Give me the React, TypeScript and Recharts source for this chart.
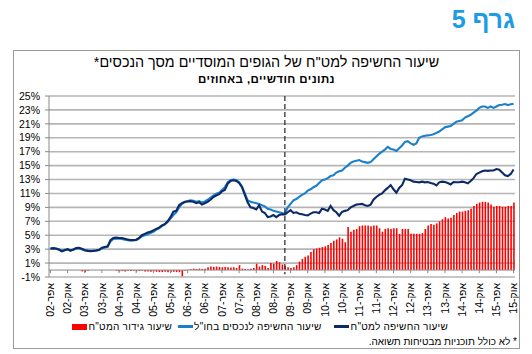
import React from 'react';
import { ComposedChart, Bar, Line, XAxis, YAxis, CartesianGrid, ReferenceLine } from 'recharts';

// Monthly categories: Apr 2002 .. Oct 2015
const MONTH_NAMES = ['ינו', 'פבר', 'מרץ', 'אפר', 'מאי', 'יונ', 'יול', 'אוג', 'ספט', 'אוק', 'נוב', 'דצמ'];
const FIRST_YEAR = 2002;
const FIRST_MONTH = 3; // April
const N_MONTHS = 163;
const categories: string[] = Array.from({ length: N_MONTHS }, (_, i) => {
  const k = FIRST_MONTH + i;
  const yy = (FIRST_YEAR + Math.floor(k / 12)) % 100;
  return `${MONTH_NAMES[k % 12]}-${String(yy).padStart(2, '0')}`;
});

// שיעור החשיפה למט"ח (navy)
const fxExposure = [
  3.1, 3.15, 3.1, 2.95, 2.7, 2.85, 3.0, 2.8, 2.95, 3.15, 3.2, 3.05,
  2.85, 2.75, 2.72, 2.75, 2.8, 2.9, 3.2, 3.3, 3.4, 4.3, 4.6, 4.65,
  4.6, 4.6, 4.5, 4.4, 4.3, 4.3, 4.35, 4.6, 5.0, 5.2, 5.4, 5.5,
  5.7, 5.9, 6.1, 6.4, 6.6, 7.0, 7.6, 8.4, 8.5, 9.3, 9.6, 9.8,
  9.85, 9.9, 9.8, 9.6, 9.75, 9.4, 9.6, 9.8, 10.1, 10.5, 10.7, 10.9,
  11.3, 11.5, 12.4, 12.8, 12.9, 12.8, 12.5, 11.9, 10.8, 9.7, 9.0, 8.9,
  8.7, 9.3, 8.4, 8.2, 7.6, 7.7, 7.9, 7.6, 7.9, 8.0, 8.0, 8.3,
  8.6, 8.2, 8.3, 8.1, 8.0, 7.9, 7.85, 8.1, 8.3, 8.3, 8.2, 8.8,
  8.7, 8.5, 9.2, 8.6, 8.3, 7.8, 8.35, 8.5, 8.6, 9.0, 9.2, 9.4,
  9.45, 9.5, 9.3, 9.2, 9.4, 10.1, 10.5, 10.8, 11.0, 11.45, 11.8, 12.2,
  11.6, 11.1, 11.8, 12.2, 13.1, 13.0, 12.9, 12.7, 12.65, 12.6, 12.7, 12.6,
  12.65, 12.5, 12.4, 12.15, 12.6, 12.7, 12.65, 12.5, 12.3, 12.65, 12.6, 12.6,
  12.7, 12.6, 12.45, 12.8, 13.2, 13.8, 14.0, 14.2, 14.3, 14.25, 14.3, 14.3,
  14.5, 14.4, 14.0, 13.6, 13.5, 13.8, 14.45,
];

// שיעור החשיפה לנכסים בחו"ל (blue)
const foreignAssets = [
  3.05, 3.1, 3.05, 2.9, 2.75, 2.9, 2.95, 2.8, 2.9, 3.1, 3.1, 3.0,
  2.85, 2.8, 2.75, 2.75, 2.8, 2.85, 3.1, 3.25, 3.35, 4.1, 4.45, 4.5,
  4.5, 4.45, 4.35, 4.3, 4.25, 4.3, 4.3, 4.5, 4.85, 5.0, 5.15, 5.3,
  5.5, 5.8, 6.0, 6.3, 6.55, 6.9, 7.4, 7.9, 8.3, 9.0, 9.5, 9.75,
  9.9, 10.0, 9.95, 9.8, 9.9, 9.7, 9.85, 10.1, 10.4, 10.7, 10.95, 11.1,
  11.5, 11.9, 12.6, 12.9, 13.0, 12.95, 12.6, 12.0, 11.0, 10.0, 9.8, 9.7,
  9.6, 9.5, 9.3, 9.15, 8.8, 8.7, 8.5, 8.4, 8.3, 8.2, 8.1, 9.0,
  9.5, 10.0, 10.2, 10.5, 10.8, 11.0, 11.4, 11.6, 11.9, 12.1, 12.5, 12.9,
  13.0, 13.2, 13.5, 13.6, 14.0, 14.2, 14.3, 14.7, 15.0, 15.4, 15.6, 15.7,
  15.8, 15.6, 15.5, 15.4, 15.5, 15.9, 16.3, 16.7, 17.0, 17.3, 17.7, 17.4,
  17.3, 17.1, 17.5, 17.9, 18.4, 18.5, 18.2, 18.0, 18.2, 19.0, 19.2, 19.3,
  19.35, 19.4, 19.5, 19.7, 19.9, 20.2, 20.5, 20.6, 20.7, 21.0, 21.3, 21.4,
  21.5, 21.9, 22.1, 22.3, 22.6, 22.9, 23.3, 23.5, 23.5, 23.3, 23.5, 23.3,
  23.5, 23.7, 23.75, 23.85, 23.7, 23.8, 23.9,
];

// שיעור גידור המט"ח (red bars)
const hedging = [
  0, 0, 0, 0, 0, 0, 0, 0, 0, 0, 0, -0.2,
  -0.3, -0.1, 0, 0, 0, 0, 0, 0, 0, 0, 0, -0.1,
  -0.2, -0.15, -0.2, -0.1, -0.15, -0.1, -0.2, -0.15, -0.1, -0.2, -0.2, -0.25,
  -0.2, -0.25, -0.3, -0.3, -0.25, -0.3, -0.3, -0.25, -0.3, -0.3, -0.9, -0.1,
  0.05, 0.1, 0.2, 0.15, 0.2, 0.15, 0.2, 0.4, 0.5, 0.45, 0.5, 0.45,
  0.4, 0.45, 0.4, 0.35, 0.4, 0.3, 0.7, 0.2, 0.15, 0.1, 0.2, 0.3,
  0.9, 0.5, 0.7, 0.6, 0.3, 1.0, 0.9, 1.3, 1.1, 0.8, 0.6, 0.4,
  0.3, 0.4, 0.7, 1.2, 1.6, 1.9, 2.1, 2.6, 3.0, 3.1, 3.2, 3.3,
  3.4, 3.6, 3.9, 4.2, 4.4, 4.7, 4.5, 4.0, 6.2, 5.5, 5.8, 5.9,
  6.3, 6.4, 6.4, 6.4, 6.3, 6.4, 6.4, 6.0, 5.5, 5.9, 6.0, 5.9,
  6.0, 6.0, 5.2, 5.9, 5.9, 5.9, 5.2, 5.2, 5.2, 5.2, 5.3, 5.9,
  6.4, 6.6, 6.5, 6.7, 7.0, 7.3, 7.6, 7.4, 7.5, 7.9, 8.2, 8.4,
  8.4, 8.5, 8.6, 8.8, 9.2, 9.5, 9.7, 9.8, 9.8, 9.7, 9.4, 9.1,
  9.2, 9.2, 9.1, 9.1, 9.2, 9.2, 9.7,
];

const yTicks = [-1, 1, 3, 5, 7, 9, 11, 13, 15, 17, 19, 21, 23, 25];
const markerMonth = 'פבר-09';
const tickCats = categories.filter((_, i) => i % 6 === 0);

const data = categories.map((m, i) => ({
  m,
  fx: fxExposure[i],
  abroad: foreignAssets[i],
  hedge: hedging[i],
}));

const NAVY = '#0d2a66';
const BLUE = '#1a80cc';
const RED = '#ff0000';
const FONT = '"Liberation Sans", Arial, "DejaVu Sans", sans-serif';

const XTick = (props: any) => {
  const { x, y, payload } = props;
  return (
    <g transform={`translate(${x},${y}) rotate(-90)`}>
      <text x={0} y={0} dy="0.35em" textAnchor="end" fontSize={10.5} fill="#000" fontFamily={FONT}>
        {'\u202B' + payload.value + '\u202C'}
      </text>
    </g>
  );
};

export default function App() {
  return (
    <div style={{ position: 'absolute', left: 0, top: 0, width: 532, height: 354, fontFamily: FONT, background: '#fff' }}>
      <div style={{ position: 'absolute', right: 17, top: 5, fontSize: 25, fontWeight: 'bold', color: '#1c9be6' }} dir="rtl">
        גרף 5
      </div>
      <div style={{ position: 'absolute', left: 13, top: 50, width: 507, height: 299, border: '1.5px solid #9a9a9a', boxSizing: 'border-box' }} />
      <div dir="rtl" style={{ position: 'absolute', left: 13, width: 507, top: 54, textAlign: 'center', fontSize: 14.3, color: '#000' }}>
        שיעור החשיפה למט''ח של הגופים המוסדיים מסך הנכסים*
      </div>
      <div dir="rtl" style={{ position: 'absolute', left: 13, width: 507, top: 73, textAlign: 'center', fontSize: 11.5, fontWeight: 'bold', letterSpacing: 0.4, color: '#000' }}>
        נתונים חודשיים, באחוזים
      </div>
      <div style={{ position: 'absolute', left: 0, top: 0 }}>
        <ComposedChart width={532} height={354} data={data} margin={{ top: 96, right: 17, bottom: 32, left: 10 }} barCategoryGap={0}>
          <CartesianGrid vertical={false} stroke="#b5b5b5" strokeWidth={1.6} />
          <XAxis
            dataKey="m"
            interval={5}
            tick={<XTick />}
            tickLine={false}
            axisLine={false}
            tickSize={0}
            tickMargin={6}
            height={45}
          />
          <YAxis
            domain={[-1, 25]}
            ticks={yTicks}
            tickFormatter={(v: number) => `${v}%`}
            axisLine={{ stroke: '#888' }}
            tickLine={{ stroke: '#888' }}
            tickSize={4}
            tickMargin={5}
            width={39}
            tick={{ fontSize: 10.5, fill: '#000', fontFamily: FONT }}
            interval={0}
          />
          <ReferenceLine y={0} stroke="#888" strokeWidth={1} />
          {tickCats.map((c) => (
            <ReferenceLine key={c} segment={[{ x: c, y: 0 }, { x: c, y: -0.45 }]} stroke="#888" strokeWidth={1} />
          ))}
          <Bar dataKey="hedge" fill={RED} barSize={1.6} isAnimationActive={false} />
          <Line type="linear" dataKey="abroad" stroke={BLUE} strokeWidth={2.1} dot={false} isAnimationActive={false} />
          <Line type="linear" dataKey="fx" stroke={NAVY} strokeWidth={2.1} dot={false} isAnimationActive={false} />
          <ReferenceLine
            segment={[{ x: markerMonth, y: 25 }, { x: markerMonth, y: -0.6 }]}
            stroke="#333"
            strokeWidth={1.3}
            strokeDasharray="5 3"
          />
        </ComposedChart>
      </div>
      <div dir="rtl" style={{ position: 'absolute', right: 84, top: 321, display: 'flex', alignItems: 'center', fontSize: 10, letterSpacing: 0.25, color: '#000', whiteSpace: 'nowrap' }}>
        <span>שיעור החשיפה למט"ח</span>
        <span style={{ display: 'inline-block', width: 15, height: 2.5, background: NAVY, margin: '0 2px 0 12px' }} />
        <span>שיעור החשיפה לנכסים בחו"ל</span>
        <span style={{ display: 'inline-block', width: 15, height: 2.5, background: BLUE, margin: '0 1px 0 6px' }} />
        <span>שיעור גידור המט"ח</span>
        <span style={{ display: 'inline-block', width: 15, height: 6, background: RED, margin: '0 1px 0 0' }} />
      </div>
      <div dir="rtl" style={{ position: 'absolute', right: 15, top: 336, fontSize: 10, color: '#000', whiteSpace: 'nowrap' }}>
        * לא כולל תוכניות מבטיחות תשואה.
      </div>
    </div>
  );
}
